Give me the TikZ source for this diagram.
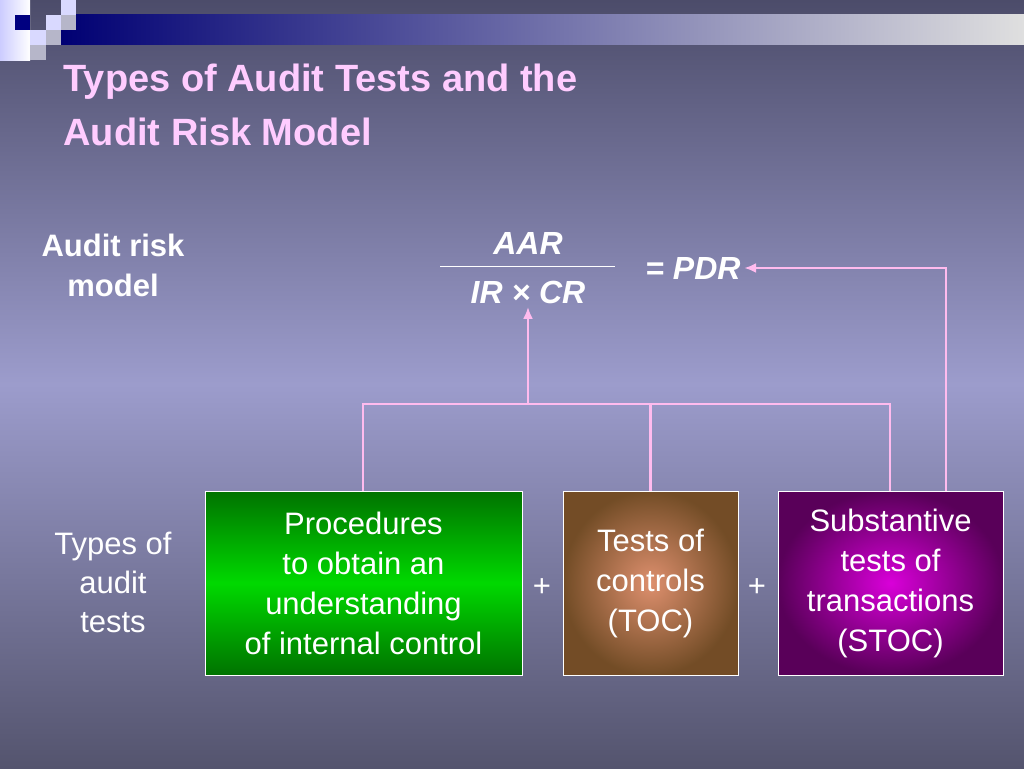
\documentclass[tikz,border=0pt]{standalone}
\usepackage{fontspec}
\setmainfont{Liberation Sans}
\usetikzlibrary{positioning,calc,arrows.meta}
\definecolor{bgtop}{HTML}{4C4C6A}
\definecolor{bgmid}{HTML}{9C9CCC}
\definecolor{bgbot}{HTML}{54546E}
\definecolor{navy}{HTML}{000080}
\definecolor{titlepink}{HTML}{FFCCFF}
\definecolor{linkpink}{HTML}{FFBBEE}
\tikzset{
  tbox/.style={draw=white,line width=1pt,align=center,text=white,font=\fontsize{31}{33}\selectfont,inner sep=0pt},
  link/.style={linkpink,line width=2.5pt},
  lbl/.style={text=white,align=center,font=\fontsize{31}{33}\selectfont},
  frm/.style={text=white,font=\bfseries\itshape\fontsize{32}{34}\selectfont}
}
\begin{document}
\begin{tikzpicture}[x=1pt,y=-1pt]
\useasboundingbox (0,0) rectangle (1024,768);
% background
\shade[top color=bgtop,bottom color=bgmid] (0,0) rectangle (1024,384);
\shade[top color=bgmid,bottom color=bgbot] (0,384) rectangle (1024,768);
% corner squares and bar
\shade[left color=navy!90!black,right color=gray!25] (61,15) rectangle (1024,45);
\shade[left color=white!80!blue,right color=white] (0,0) rectangle (30,60);
\fill[navy] (15,15) rectangle (30,30);
\fill[white!85!blue] (61,0) rectangle (76,15);
\fill[white!85!blue] (46,15) rectangle (61,30);
\fill[blue!15!gray!50] (61,15) rectangle (76,30);
\fill[white!85!blue] (30,30) rectangle (46,45);
\fill[blue!15!gray!50] (46,30) rectangle (61,45);
\fill[blue!15!gray!50] (30,45) rectangle (46,60);
% title
\node[anchor=north west,text=titlepink,align=left,font=\bfseries\fontsize{38}{54}\selectfont] (title) at (60,60) {Types of Audit Tests and the\\Audit Risk Model};
% left labels
\node[text=white,align=center,font=\bfseries\fontsize{31}{40}\selectfont] (arm) at (113,265) {Audit risk\\model};
\node[lbl,font=\fontsize{31}{39}\selectfont] (tat) at (113,582) {Types of\\audit\\tests};
% formula
\node[frm] (aar) at (528,243) {AAR};
\node[frm] (ircr) at (528,292) {IR × CR};
\draw[white,line width=1pt] (440,266) -- (615,266);
\node[frm] (pdr) at (693,268) {= PDR};
% boxes
\node[tbox,minimum width=317pt,minimum height=184pt,top color=green!45!black,bottom color=green!45!black,middle color=green!85!black,font=\fontsize{31}{40}\selectfont] (proc) at (363.5,583) {Procedures\\to obtain an\\understanding\\of internal control};
\node[tbox,minimum width=175pt,minimum height=184pt,inner color=red!25!brown!70,outer color=brown!60!black,font=\fontsize{31}{40}\selectfont] (toc) at (650.5,583) {Tests of\\controls\\(TOC)};
\node[tbox,minimum width=225pt,minimum height=184pt,inner color=magenta!70!violet,outer color=violet!70!black,font=\fontsize{31}{40}\selectfont] (stoc) at (890.5,583) {Substantive\\tests of\\transactions\\(STOC)};
\node[lbl] (plus1) at (542,588) {+};
\node[lbl] (plus2) at (757,588) {+};
% connectors
\coordinate (jn) at (528,404);
\coordinate (ptop) at (363,491);
\coordinate (stop) at (890,491);
\coordinate (sright) at (946,491);
\draw[link] (ptop) |- (jn);
\draw[link] (stop) |- (jn);
\draw[link] (toc.north) -- (toc.north |- jn);
\draw[link,-{Latex[length=12pt,width=10pt]}] (jn) -- (ircr.south);
\draw[link,-{Latex[length=12pt,width=10pt]}] (sright) |- (pdr.east);
\end{tikzpicture}
\end{document}
